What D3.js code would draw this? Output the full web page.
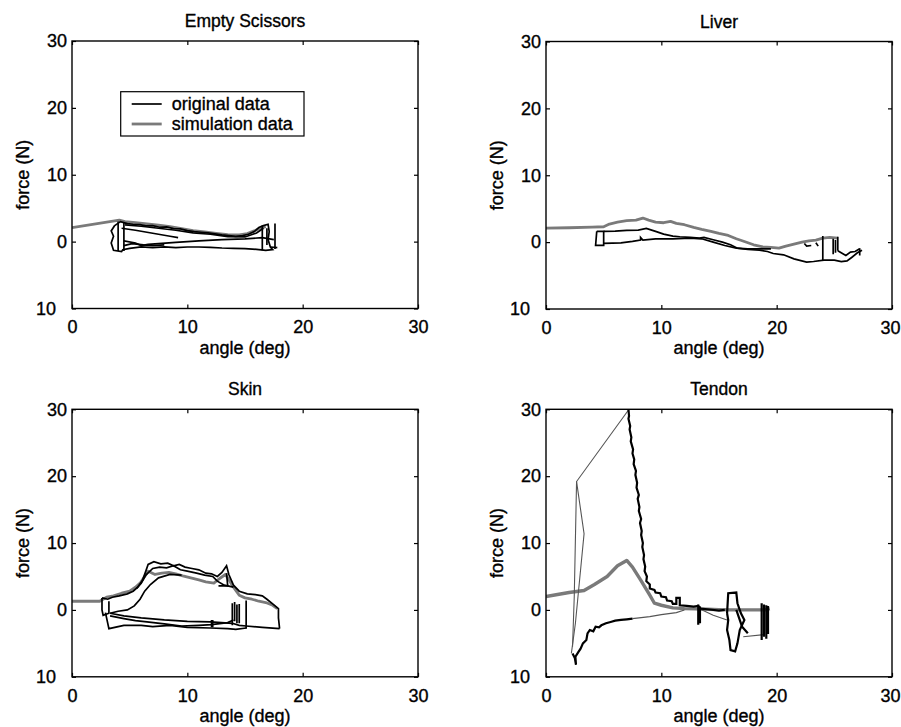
<!DOCTYPE html>
<html>
<head>
<meta charset="utf-8">
<script src="https://cdn.jsdelivr.net/npm/d3@7"></script>
<style>
  html, body { margin: 0; padding: 0; background: #fff; }
  svg text { font-family: "Liberation Sans", Arial, Helvetica, sans-serif; fill: #000; stroke: #000; stroke-width: 0.35px; }
</style>
</head>
<body>
<svg id="chart" width="901" height="727"></svg>
<script>
// ---- axis definitions ----
const xTicks = [0, 10, 20, 30];
const xTickLabels = ["0", "10", "20", "30"];
const yTicks = [-10, 0, 10, 20, 30];
const yTickLabels = ["10", "0", "10", "20", "30"];
const titles = ["Empty Scissors", "Liver", "Skin", "Tendon"];
const legendLabels = ["original data", "simulation data"];

// ---- Empty Scissors: [angle (deg), force (N)] ----
const scissorsSim = [[0,2.1],[4.1,3.2],[4.6,3.0],[5.5,2.85],[6.5,2.65],[7.5,2.45],[8.5,2.25],[9.5,1.95],[10.5,1.65],[11.5,1.45],[12.5,1.25],[13.5,1.05],[14.5,1.0],[15.2,1.2],[15.8,1.6],[16.3,2.0],[16.8,2.25]];
const scissorsOrig = [
  [[3.7,2.4],[4.2,3.0],[4.8,2.7],[5.3,2.6],[5.9,2.55],[6.4,2.35],[7.0,2.4],[7.6,2.15],[8.2,2.2],[8.8,1.95],[9.4,1.9],[10.0,1.65],[10.6,1.5],[11.2,1.4],[11.8,1.3],[12.4,1.15],[13.0,1.0],[13.6,0.9],[14.2,0.8],[14.8,0.9],[15.3,1.1],[15.8,1.5],[16.2,2.1],[16.6,2.4],[17.0,2.6],[17.1,1.5],[17.0,0.3],[17.2,-0.8],[17.4,-1.2],[16.8,-1.3],[16.0,-1.15],[15.0,-1.05],[14.0,-1.0],[13.0,-0.95],[12.0,-0.85],[11.0,-0.8],[10.0,-0.8],[9.0,-0.9],[8.0,-0.8],[7.0,-0.9],[6.0,-0.8],[5.0,-1.0],[4.4,-1.2],[4.3,-1.5],[3.6,-1.3],[3.4,-0.2],[3.6,0.8],[3.4,1.6],[3.7,2.4]],
  [[4.3,2.0],[5.5,1.7],[6.5,1.4],[7.5,1.1],[8.5,0.8],[9.2,0.6]],
  [[4.5,0.1],[5.5,-0.2],[6.0,-0.6],[6.6,-0.4],[7.5,-0.3],[9.0,-0.1],[11.0,0.1],[13.0,0.3],[15.0,0.4],[16.5,0.6],[17.5,0.3]],
  [[4.5,-0.6],[5.2,-0.3],[6.2,-0.5],[7.0,-0.6],[8.0,-0.5]],
  [[4.6,2.5],[6,2.3],[7.5,2.0],[9,1.7],[10.5,1.3],[12,1.1],[13.5,0.75],[15,0.7],[16,1.3],[16.6,2.0]],
  [[16.5,2.4],[16.5,-1.3]],[[16.9,2.0],[16.9,-0.5]],[[17.6,2.7],[17.6,-1.1]],
  [[17.2,-0.8],[17.8,-0.9]],
  [[4.0,3.0],[4.0,-1.4]],[[4.5,2.8],[4.5,-1.4]]
];

// ---- Liver ----
const liverSim = [[0,2.1],[2,2.15],[4,2.25],[5,2.3],[5.5,2.7],[6.2,3.0],[7,3.2],[7.8,3.3],[8.4,3.6],[8.9,3.3],[9.5,3.0],[10.2,2.9],[10.8,3.1],[11.3,2.8],[12,2.6],[12.8,2.2],[13.5,1.9],[14.3,1.6],[15,1.3],[15.8,1.0],[16.5,0.5],[17.2,0.1],[18,-0.4],[18.8,-0.7],[19.5,-0.8],[20.2,-0.9],[20.8,-0.6],[21.5,-0.3],[22.2,0],[22.8,0.2],[23.4,0.3],[24,0.6],[24.6,0.7],[25.3,0.6]];
const liverOrig = [
  [[4.4,1.6],[4.3,-0.5],[5.0,-0.5],[5.0,1.6],[4.4,1.6]],
  [[5.0,1.6],[6,1.65],[7,1.75],[8,1.8],[8.7,2.05],[9.5,1.6],[10.2,1.2],[11,0.9],[11.6,0.8],[12.5,0.7],[13.3,0.6],[13.7,0.7],[14.5,0.35],[15.3,0.0],[16.0,-0.4],[16.6,-0.9],[17.5,-1.1],[18.5,-1.2],[19.2,-1.4],[19.7,-1.7],[20.6,-1.9],[21.5,-2.5],[22.6,-3.0],[23.2,-2.9],[24.1,-2.7],[25,-2.7],[25.6,-2.9],[26.1,-2.8],[26.5,-2.3],[27,-1.6],[27.4,-1.2]],
  [[5.0,-0.2],[6.5,-0.1],[7.5,0.1],[8.2,0.3],[8.2,0.7],[8.4,0.3],[9.5,0.5],[11,0.5],[12.5,0.6],[13.5,0.5],[14.5,0],[15.5,-0.5],[16.5,-0.9],[17.5,-1.0],[18.5,-1.0],[19.5,-1.0]],
  [[24.0,0.9],[24.0,-2.7]],[[24.9,0.5],[24.9,-1.8]],[[25.1,0.3],[25.1,-1.6]],[[25.3,0.8],[25.3,-1.3]],
  [[25.3,-1.3],[26.0,-2.0],[26.4,-1.5],[26.8,-1.4],[27.2,-1.0]],[[27.2,-0.9],[27.2,-2.0]],
  [[22.4,-0.2],[22.6,-0.6],[23.0,-0.5]],[[23.4,-0.1],[23.6,-0.6]]
];

// ---- Skin ----
const skinSim = [[0,1.3],[2.4,1.3],[3,1.9],[3.6,2.1],[4.3,2.5],[5,2.8],[5.5,3.4],[5.9,4.0],[6.3,5.0],[6.6,5.8],[7.2,5.3],[7.8,5.5],[8.4,5.6],[9,5.4],[9.6,5.1],[10.3,4.8],[11,4.5],[11.6,4.2],[12.3,4.0],[12.8,4.7],[13.3,5.3],[13.6,4.5],[14,3.4],[14.5,2.2],[15,1.8],[15.6,1.6],[16.2,1.3],[16.8,1.1],[17.4,0.7],[17.8,0.2]];
const skinOrig = [
  [[2.6,1.8],[3.1,1.6],[3.5,1.9],[4.1,2.1],[4.8,2.4],[5.3,2.8],[5.7,3.4],[6.1,4.4],[6.4,5.8],[6.6,6.8],[7.1,7.2],[7.7,6.9],[8.3,7.0],[8.8,6.6],[9.3,6.8],[9.8,6.4],[10.4,6.2],[11,6.0],[11.6,5.5],[12.1,5.4],[12.6,5.0],[13.0,5.6],[13.4,6.6],[13.6,5.3],[14.0,3.7],[14.5,2.8],[15.2,2.4],[15.9,2.3],[16.5,2.1],[16.9,1.6],[17.4,0.9],[17.9,0.2],[17.9,-1.2],[18.0,-2.8]],
  [[5.6,3.2],[6.0,4.0],[6.4,5.2],[7.0,6.2],[7.6,6.4],[8.2,6.3],[8.8,6.6],[9.4,6.0],[10,5.8],[10.8,5.5],[11.5,5.2],[12.2,5.0],[12.6,4.3],[13.2,3.7],[14.0,3.4]],
  [[12.7,3.6],[13.5,3.6],[13.4,5.5]],
  [[3.3,-0.5],[4.0,-0.2],[4.8,0.0],[5.4,0.6],[5.9,1.6],[6.3,2.8],[6.8,3.8],[7.5,4.8],[8.5,5.3],[9.5,5.2]],
  [[3.3,-0.5],[4.5,-0.9],[6,-1.2],[8,-1.5],[10,-1.7],[12,-1.8],[13.9,-2.0],[14.5,-2.3],[15.1,-2.4],[16.5,-2.6],[18.0,-2.8]],
  [[2.9,-0.4],[3.2,-2.8],[4.5,-2.3],[6,-2.3],[7,-2.5],[8.5,-2.3],[10,-2.6],[12,-2.7],[13.5,-2.8],[14.2,-2.9],[15.1,-2.7]],
  [[3.3,-0.9],[4.5,-1.3],[5.5,-1.6],[6.5,-1.8],[8,-2.1],[9.5,-2.4],[11,-2.3],[12.1,-2.2],[13.5,-1.9],[14.0,-1.5]],
  [[2.6,1.8],[2.6,0],[2.7,-0.8],[3.2,-0.5],[3.2,1.3]],
  [[13.9,1.0],[13.9,-2.3]],[[14.1,1.2],[14.1,-1.7]],[[14.3,0.8],[14.3,-2.0]],[[14.5,0.9],[14.5,-2.0]],[[15.1,1.4],[15.1,-2.8]],
  [[12.1,-1.5],[12.1,-2.6]],[[12.2,-1.5],[12.2,-2.6]]
];

// ---- Tendon ----
const tendonSim = [[0,2.0],[1,2.3],[2,2.6],[3.3,2.9],[4.2,3.8],[5.3,5.0],[6.2,6.6],[7.0,7.4],[7.5,6.4],[8.2,4.5],[9.0,2.2],[9.4,1.0],[10,0.7],[11,0.3],[12,0.2],[13,0.15],[14,0.1],[15,0.05],[16,0],[17,0],[18,0],[19,0],[19.4,0.2]];
const tendonOrigSparse = [
  [[2.2,-6.5],[2.55,-2],[3.3,11.4],[2.65,19.2],[7.2,30]],
  [[2.65,19.2],[2.45,2],[2.3,-5.5]],
  [[7.5,-1.3],[9,-1.0],[10,-0.7],[11.3,-0.4],[12,0]],
  [[13.4,0.1],[14.5,-0.8],[15.7,-1.5]],
  [[17.1,-4.0],[18.9,-3.7]]
];
const tendonOrig = [
  [[7.15,30],[7.2,29],[7.15,28.6],[7.3,27.5],[7.25,27],[7.4,25.8],[7.35,25.2],[7.55,24],[7.5,23.4],[7.65,22.5],[7.6,21.8],[7.8,20.8],[7.75,20.2],[7.9,19],[7.85,18.3],[8.05,17.2],[7.95,16.6],[8.1,15.4],[8.05,14.8],[8.25,13.6],[8.15,13],[8.3,11.8],[8.25,11.2],[8.4,10],[8.35,9.4],[8.5,8.2],[8.45,7.6],[8.6,6.5],[8.55,5.8],[8.75,5],[8.7,4.3],[9.0,3.8],[9.0,3.2],[9.4,3.0],[9.5,2.6],[9.9,2.5],[10.0,2.0],[10.4,1.9],[10.5,1.4],[10.9,1.3],[11.0,0.9],[11.3,0.9],[11.3,1.8],[11.6,1.8],[11.6,0.7],[12.2,0.6],[12.8,0.5],[13.2,0.6],[13.4,0.2],[14,0.1],[15,-0.1],[15.5,0]],
  [[13.2,0.8],[13.2,-2.2]],[[13.35,0.5],[13.35,-2.0]],
  [[15.7,-0.5],[15.8,2.5],[16.5,2.6],[16.6,1.0],[16.9,-0.5],[17.2,-1.5],[16.8,-3],[16.6,-5],[16.4,-6.2],[16.0,-6.0],[15.9,-4.5],[15.7,-3],[15.8,-1.5],[15.7,-0.5]],
  [[16.5,0],[17.0,-2.5],[17.5,-3.5]],
  [[18.7,1.0],[18.7,-4.5]],[[18.9,0.8],[18.9,-4.0]],[[19.1,0.7],[19.1,-4.3]],[[19.25,0.6],[19.25,-3.6]],
  [[2.3,-6.5],[2.5,-7.2],[2.6,-8.2],[2.55,-7],[2.8,-6.3],[3.0,-5.8],[3.2,-5.0],[3.5,-4.5],[3.6,-3.5],[3.8,-3.0],[4.1,-3.2],[4.3,-2.5],[4.6,-2.6],[4.8,-2.3],[5.2,-2.0],[5.6,-1.8],[6.0,-1.6],[6.5,-1.5],[7.0,-1.4],[7.5,-1.3]]
];

// ---- layout ----
const W = 346, H = 267.5;
const panels = [
  { left: 72,  top: 41,    title: titles[0], sim: scissorsSim, orig: scissorsOrig, sparse: [], legend: true },
  { left: 546, top: 41.5,  title: titles[1], sim: liverSim,    orig: liverOrig,    sparse: [], legend: false },
  { left: 72,  top: 409.3, title: titles[2], sim: skinSim,     orig: skinOrig,     sparse: [], legend: false },
  { left: 546, top: 409.3, title: titles[3], sim: tendonSim,   orig: tendonOrig,   sparse: tendonOrigSparse, legend: false, simWidth: 3.4, origWidth: 2.2 }
];

const svg = d3.select("#chart");
const simColor = "#7a7a7a";
const fontSize = 18;
const svgWidth = +svg.attr("width");

panels.forEach((p, i) => {
  const x = d3.scaleLinear().domain([0, 30]).range([0, W]);
  const y = d3.scaleLinear().domain([-10, 30]).range([H, 0]);
  const g = svg.append("g").attr("transform", `translate(${p.left},${p.top})`);

  const clipId = "clip" + i;
  g.append("clipPath").attr("id", clipId)
    .append("rect").attr("x", 0).attr("y", 0).attr("width", W).attr("height", H);

  const line = d3.line().x(d => x(d[0])).y(d => y(d[1]));
  const plot = g.append("g").attr("clip-path", `url(#${clipId})`);

  // simulation trace (gray, heavier)
  plot.append("path").datum(p.sim)
    .attr("d", line).attr("fill", "none")
    .attr("stroke", simColor).attr("stroke-width", p.simWidth || 2.8)
    .attr("stroke-linejoin", "round");

  // sparse original data segments render thin
  plot.selectAll("path.sparse").data(p.sparse).join("path")
    .attr("class", "sparse").attr("d", line).attr("fill", "none")
    .attr("stroke", "#555").attr("stroke-width", 1.1);

  // original data (black)
  plot.selectAll("path.orig").data(p.orig).join("path")
    .attr("class", "orig").attr("d", line).attr("fill", "none")
    .attr("stroke", "#000").attr("stroke-width", p.origWidth || 1.7)
    .attr("stroke-linejoin", "miter");

  // axes: ticks point inward on all four sides
  const fmtX = d => xTickLabels[xTicks.indexOf(d)];
  const fmtY = d => yTickLabels[yTicks.indexOf(d)];
  const gx = g.append("g").attr("transform", `translate(0,${H})`)
    .call(d3.axisBottom(x).tickValues(xTicks).tickFormat(fmtX).tickSizeInner(-4).tickSizeOuter(0).tickPadding(12));
  const gy = g.append("g")
    .call(d3.axisLeft(y).tickValues(yTicks).tickFormat(fmtY).tickSizeInner(-4).tickSizeOuter(0).tickPadding(5));
  g.append("g").call(d3.axisTop(x).tickValues(xTicks).tickFormat("").tickSizeInner(-4).tickSizeOuter(0));
  g.append("g").attr("transform", `translate(${W},0)`)
    .call(d3.axisRight(y).tickValues(yTicks).tickFormat("").tickSizeInner(-4).tickSizeOuter(0));
  g.selectAll(".domain").remove();
  g.selectAll(".tick line").attr("stroke", "#000").attr("stroke-width", 1.2);
  g.selectAll(".tick text").attr("font-size", fontSize).attr("font-family", null).attr("fill", "#000");
  gy.selectAll(".tick text").filter(d => d === -10).attr("dx", -11);
  // keep the last x label inside the page for the right-hand column
  if (p.left + W + 12 > svgWidth) {
    gx.selectAll(".tick text").filter(d => d === 30).attr("dx", -(p.left + W + 11 - svgWidth));
  }

  // frame
  g.append("rect").attr("width", W).attr("height", H)
    .attr("fill", "none").attr("stroke", "#000").attr("stroke-width", 1.4);

  // title and axis labels
  g.append("text").attr("x", W / 2).attr("y", -14).attr("text-anchor", "middle")
    .attr("font-size", fontSize - 0.5).text(p.title);
  g.append("text").attr("x", W / 2).attr("y", H + 45).attr("text-anchor", "middle")
    .attr("font-size", fontSize).text("angle (deg)");
  g.append("text").attr("transform", `translate(-43,${H / 2}) rotate(-90)`)
    .attr("text-anchor", "middle").attr("font-size", fontSize).text("force (N)");

  if (p.legend) {
    const lg = g.append("g").attr("transform", "translate(48.7,50.7)");
    lg.append("rect").attr("width", 183.3).attr("height", 44.3)
      .attr("fill", "#fff").attr("stroke", "#000").attr("stroke-width", 1.2);
    const rows = [{ c: "#000", w: 1.7 }, { c: simColor, w: 2.8 }];
    rows.forEach((r, k) => {
      const cy = 12.3 + k * 20;
      lg.append("line").attr("x1", 11).attr("x2", 41).attr("y1", cy).attr("y2", cy)
        .attr("stroke", r.c).attr("stroke-width", r.w);
      lg.append("text").attr("x", 51).attr("y", cy + 6)
        .attr("font-size", fontSize).text(legendLabels[k]);
    });
  }
});
</script>
</body>
</html>
